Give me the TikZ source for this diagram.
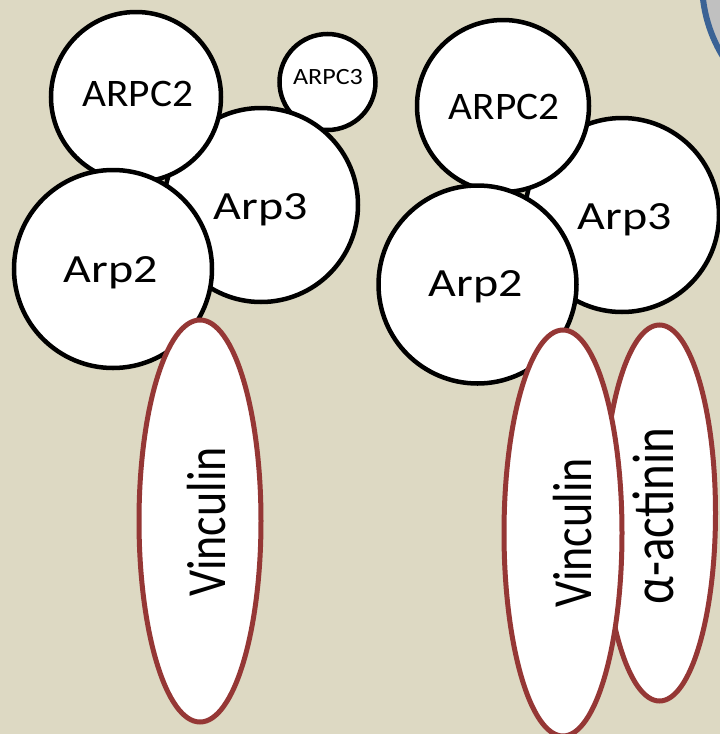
\documentclass[tikz,border=0pt]{standalone}
\usepackage{fontspec}
\setmainfont{Carlito}
\usetikzlibrary{shapes.geometric}
\definecolor{bg}{HTML}{DDD9C3}
\definecolor{vred}{HTML}{953735}
\definecolor{ringblue}{HTML}{3A6295}
\definecolor{ringgray}{HTML}{C0C0C0}
\tikzset{
  prot/.style={circle, draw=black, fill=white, line width=4.5pt, inner sep=0pt},
  link/.style={ellipse, draw=vred, fill=white, line width=5pt, inner sep=0pt},
  lab/.style={anchor=base, inner sep=0pt, font=\fontsize{40}{48}\selectfont},
  vlab/.style={anchor=base, inner sep=0pt, rotate=90, font=\fontsize{46}{54}\selectfont},
}
\begin{document}
\begin{tikzpicture}[x=1pt,y=-1pt]
\useasboundingbox (0,0) rectangle (720,734);
\fill[bg] (0,0) rectangle (720,734);
\clip (0,0) rectangle (720,734);
\node[draw=ringblue, fill=ringgray, line width=6pt, circle, minimum size=286pt, inner sep=0pt] (ring) at (845,-18) {};
% left complex
\node[prot, minimum size=96pt] (lc3) at (327.5,82) {};
\node[prot, minimum size=194pt] (l3) at (261,205) {};
\node[prot, minimum size=170pt] (lc2) at (136,97) {};
\node[prot, minimum size=198pt] (l2) at (113,269) {};
\node[link, minimum width=122pt, minimum height=402pt] (lv) at (200,521) {};
% right complex
\node[prot, minimum size=194pt] (r3) at (622,215) {};
\node[prot, minimum size=172pt] (rc2) at (503,106) {};
\node[prot, minimum size=198pt] (r2) at (477.5,284.5) {};
\node[link, minimum width=112pt, minimum height=376pt] (ra) at (659.5,513) {};
\node[link, minimum width=118pt, minimum height=406pt] (rv) at (563,533) {};
% labels
\node[lab, font=\fontsize{39}{47}\selectfont] (tlc2) at (137.7,106.7) {\scalebox{1.06}[1]{ARPC2}};
\node[lab, font=\fontsize{23.3}{28}\selectfont] (tlc3) at (328,84.3) {\scalebox{1.12}[1]{ARPC3}};
\node[lab] (tl3) at (261,219) {\scalebox{1.2}[1]{Arp3}};
\node[lab] (tl2) at (111,282) {\scalebox{1.2}[1]{Arp2}};
\node[lab, font=\fontsize{39}{47}\selectfont] (trc2) at (504,119) {\scalebox{1.06}[1]{ARPC2}};
\node[lab] (tr3) at (625,229.5) {\scalebox{1.2}[1]{Arp3}};
\node[lab] (tr2) at (476,296.5) {\scalebox{1.2}[1]{Arp2}};
\node[vlab] (tlv) at (225.7,522) {\scalebox{1}[1.2]{Vinculin}};
\node[vlab] (trv) at (591,533) {\scalebox{1}[1.2]{Vinculin}};
\node[vlab, font=\fontsize{49}{58}\selectfont] (tra) at (673,516) {\scalebox{1}[1.2]{α-actinin}};
\end{tikzpicture}
\end{document}
